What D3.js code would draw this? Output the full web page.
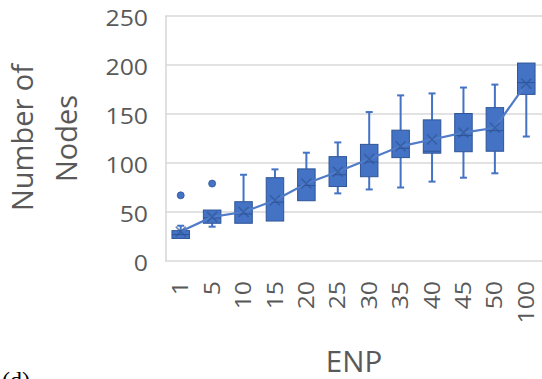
<!DOCTYPE html>
<html>
<head>
<meta charset="utf-8">
<script src="https://cdn.jsdelivr.net/npm/d3@7"></script>
<style>
  html, body { margin: 0; padding: 0; background: #fff; }
  svg { display: block; }
</style>
</head>
<body>
<svg id="chart" width="542" height="379"></svg>
<script>
// ENP groups on the x axis
const categories = ["1", "5", "10", "15", "20", "25", "30", "35", "40", "45", "50", "100"];
// five-number summary per group
const whiskerLow = [23, 35, 38.5, 40.8, 61.5, 69, 73, 75, 81, 85, 89.5, 127];
const q1 =         [23, 38.5, 38.5, 40.8, 61.5, 76, 86, 105.5, 110, 111.5, 112, 170];
const median =     [27, 44, 48, 60, 77, 88, 101, 115, 112, 128, 133, 182];
const q3 =         [31, 52, 60.5, 85, 94, 106.5, 119, 133.5, 144, 150.5, 156.5, 202];
const whiskerHigh =[36, 52, 88, 93.5, 110.5, 121, 152, 169, 171, 177, 180, 202];
const means =      [30, 45, 50, 62, 79, 91, 104, 117, 124, 131, 136, 181];
// points beyond the whiskers
const outlierCats = ["1", "5"];
const outlierVals = [67, 79];
const yTicks = [0, 50, 100, 150, 200, 250];

const svg = d3.select("#chart");
const fill = "#4472C4";
const edge = "#2F5597";
const textColor = "#595959";
const font = "'Open Sans', sans-serif";

const x = d3.scaleBand().domain(categories).range([165, 542]).paddingInner(0).paddingOuter(0);
const y = d3.scaleLinear().domain([0, 250]).range([261, 16]);

// gridlines
svg.append("g").selectAll("line").data(yTicks).join("line")
  .attr("x1", 165).attr("x2", 542)
  .attr("y1", d => y(d)).attr("y2", d => y(d))
  .attr("stroke", "#D9D9D9").attr("stroke-width", 1.6);
// left axis line
svg.append("line")
  .attr("x1", 166).attr("x2", 166).attr("y1", y(250)).attr("y2", y(0))
  .attr("stroke", "#D9D9D9").attr("stroke-width", 1.6);

// y tick labels
svg.append("g").selectAll("text").data(yTicks).join("text")
  .attr("transform", d => `translate(148,${y(d) + 2}) scale(1.18,1)`)
  .attr("text-anchor", "end").attr("dominant-baseline", "central")
  .attr("font-family", font).attr("font-size", 21).attr("fill", textColor)
  .text(d => d);

// x tick labels, rotated
const cx = c => x(c) + x.bandwidth() / 2;
svg.append("g").selectAll("text").data(categories).join("text")
  .attr("transform", d => `translate(${cx(d)},281) rotate(-90) scale(1.18,1)`)
  .attr("text-anchor", "end").attr("dy", "0.36em")
  .attr("font-family", font).attr("font-size", 21).attr("fill", textColor)
  .text(d => d);

// axis titles
svg.append("text")
  .attr("transform", "translate(33,137.5) rotate(-90)")
  .attr("text-anchor", "middle")
  .attr("font-family", font).attr("font-size", 29).attr("fill", textColor)
  .text("Number of");
svg.append("text")
  .attr("transform", "translate(77,138.5) rotate(-90)")
  .attr("text-anchor", "middle")
  .attr("font-family", font).attr("font-size", 29).attr("fill", textColor)
  .text("Nodes");
svg.append("text")
  .attr("x", 354).attr("y", 371.5)
  .attr("text-anchor", "middle")
  .attr("font-family", font).attr("font-size", 29.5).attr("fill", textColor)
  .text("ENP");

// panel tag, partly below the lower edge
svg.append("text")
  .attr("x", 2).attr("y", 388)
  .attr("font-family", "'Liberation Serif', serif").attr("font-size", 24).attr("fill", "#000")
  .text("(d)");

const stats = categories.map((c, i) => ({
  c, lo: whiskerLow[i], q1: q1[i], med: median[i], q3: q3[i], hi: whiskerHigh[i], mean: means[i]
}));
const boxW = 17.5;
const capW = 7;

// whiskers
const g = svg.append("g");
g.selectAll("line.wl").data(stats).join("line").attr("class", "wl")
  .attr("x1", d => cx(d.c)).attr("x2", d => cx(d.c))
  .attr("y1", d => y(d.lo)).attr("y2", d => y(d.q1))
  .attr("stroke", fill).attr("stroke-width", 2);
g.selectAll("line.wh").data(stats).join("line").attr("class", "wh")
  .attr("x1", d => cx(d.c)).attr("x2", d => cx(d.c))
  .attr("y1", d => y(d.hi)).attr("y2", d => y(d.q3))
  .attr("stroke", fill).attr("stroke-width", 2);
g.selectAll("line.cl").data(stats.filter(d => d.lo < d.q1)).join("line").attr("class", "cl")
  .attr("x1", d => cx(d.c) - capW / 2).attr("x2", d => cx(d.c) + capW / 2)
  .attr("y1", d => y(d.lo)).attr("y2", d => y(d.lo))
  .attr("stroke", fill).attr("stroke-width", 2);
g.selectAll("line.ch").data(stats.filter(d => d.hi > d.q3)).join("line").attr("class", "ch")
  .attr("x1", d => cx(d.c) - capW / 2).attr("x2", d => cx(d.c) + capW / 2)
  .attr("y1", d => y(d.hi)).attr("y2", d => y(d.hi))
  .attr("stroke", fill).attr("stroke-width", 2);

// boxes
g.selectAll("rect").data(stats).join("rect")
  .attr("x", d => cx(d.c) - boxW / 2).attr("width", boxW)
  .attr("y", d => y(d.q3)).attr("height", d => y(d.q1) - y(d.q3))
  .attr("fill", fill).attr("stroke", edge).attr("stroke-width", 1);
// medians
g.selectAll("line.md").data(stats).join("line").attr("class", "md")
  .attr("x1", d => cx(d.c) - boxW / 2).attr("x2", d => cx(d.c) + boxW / 2)
  .attr("y1", d => y(d.med)).attr("y2", d => y(d.med))
  .attr("stroke", edge).attr("stroke-width", 1);

// mean line
g.append("path")
  .datum(stats)
  .attr("d", d3.line().x(d => cx(d.c)).y(d => y(d.mean)))
  .attr("fill", "none").attr("stroke", "#4F7BC9").attr("stroke-width", 2.2);

// mean markers (X)
const mk = 5;
g.selectAll("path.mx").data(stats).join("path").attr("class", "mx")
  .attr("d", d => {
    const px = cx(d.c), py = y(d.mean);
    return `M${px - mk},${py - mk}L${px + mk},${py + mk}M${px - mk},${py + mk}L${px + mk},${py - mk}`;
  })
  .attr("stroke", edge).attr("stroke-width", 1.5).attr("opacity", 0.7).attr("fill", "none");

// outliers
g.selectAll("circle").data(outlierCats.map((c, i) => ({ c, v: outlierVals[i] }))).join("circle")
  .attr("cx", d => cx(d.c)).attr("cy", d => y(d.v)).attr("r", 3.5)
  .attr("fill", fill).attr("stroke", edge).attr("stroke-width", 0.8);
</script>
</body>
</html>
